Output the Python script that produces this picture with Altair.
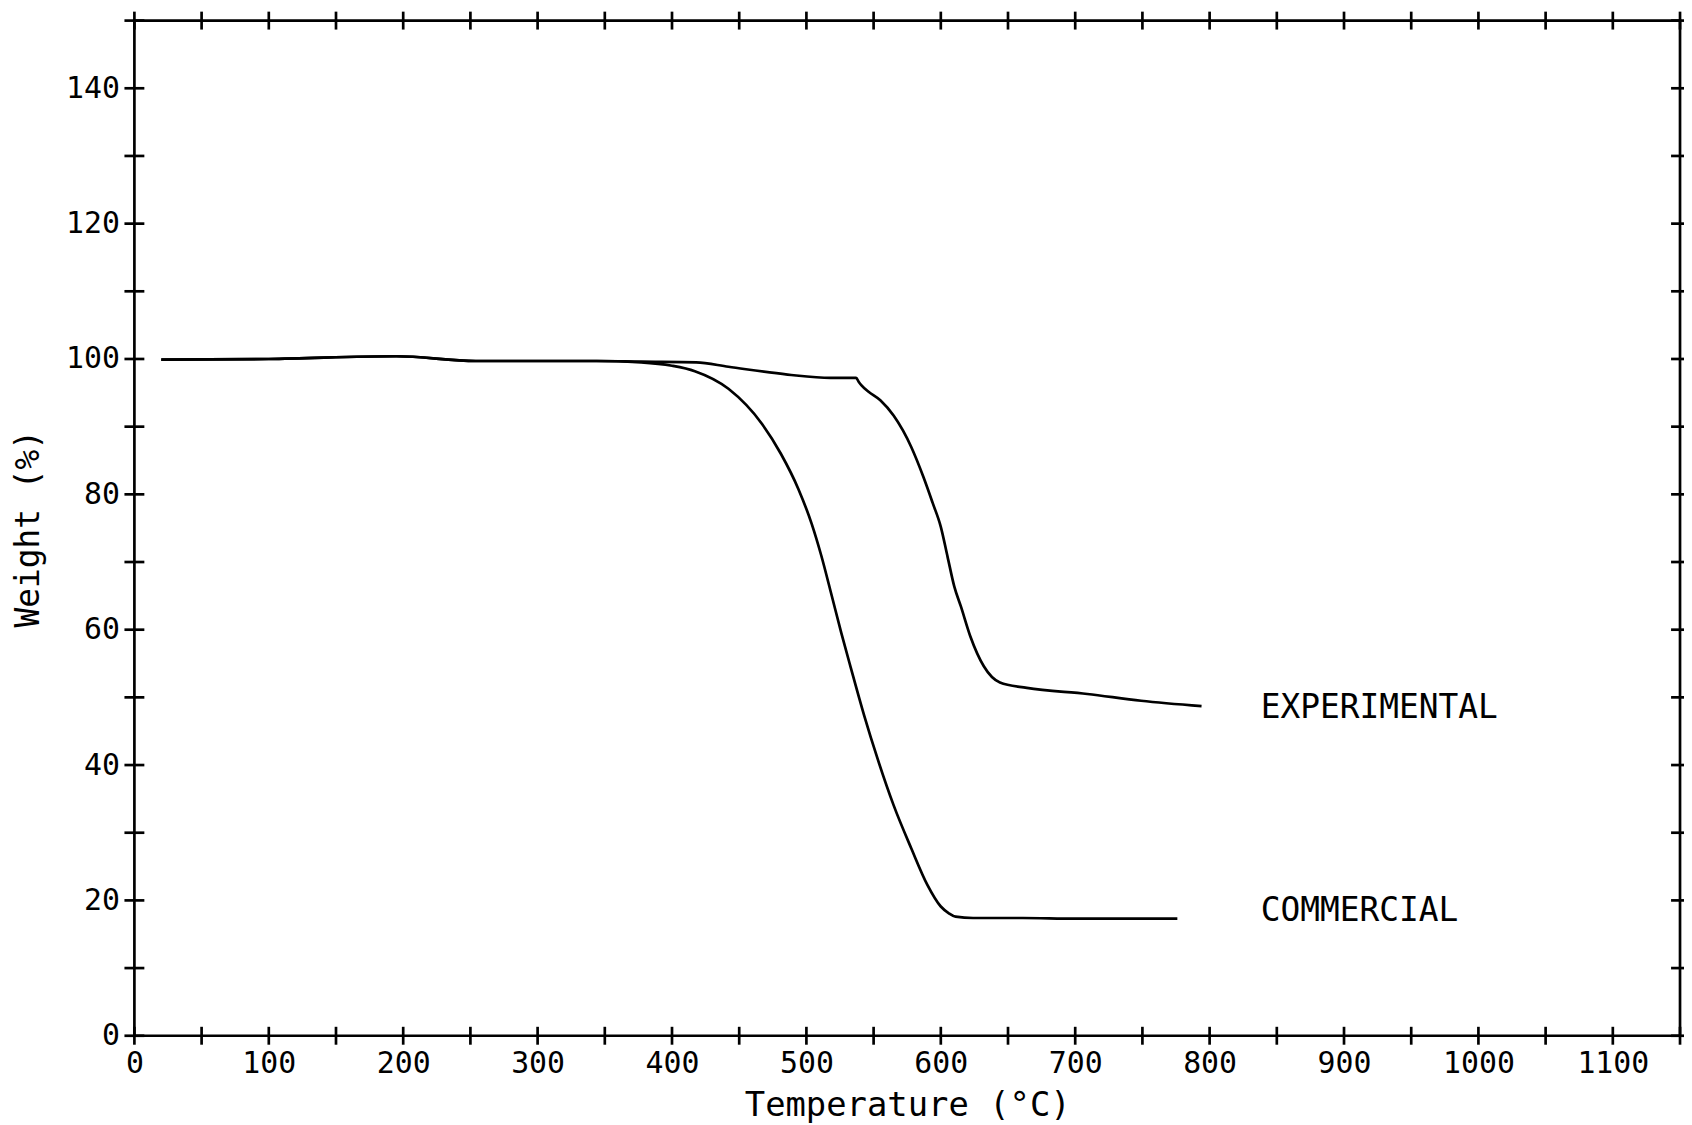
import altair as alt
import pandas as pd

# ---- data ----
commercial_T = [20, 100, 195, 254, 344, 377, 400, 417, 442, 467, 481, 494, 504, 511,
                519, 526, 533, 543, 553, 565, 578, 590, 600, 606, 611, 624, 661, 700,
                740, 776]
commercial_W = [99.9, 100.0, 100.4, 99.7, 99.7, 99.5, 99.0, 98.2, 95.6, 90.4, 86.0,
                80.8, 75.6, 71.0, 64.9, 59.5, 54.4, 47.3, 40.9, 34.0, 27.7, 22.3, 19.1,
                18.1, 17.6, 17.4, 17.4, 17.3, 17.3, 17.3]

experimental_T = [20, 100, 195, 254, 344, 377, 418, 442, 486, 518, 537, 539, 541, 546,
                  555, 565, 578, 587, 594, 600, 605, 610, 615, 622, 632, 644, 664, 709,
                  749, 794]
experimental_W = [99.9, 100.0, 100.4, 99.7, 99.7, 99.6, 99.5, 98.85, 97.7, 97.2, 97.2,
                  96.6, 96.1, 95.2, 93.9, 91.6, 87.0, 82.6, 78.7, 75.2, 70.8, 66.4,
                  63.4, 59.0, 54.6, 52.2, 51.4, 50.5, 49.5, 48.7]

label_names = ["EXPERIMENTAL", "COMMERCIAL"]
label_T = [838, 838]
label_W = [48.4, 18.4]

x_ticks = list(range(0, 1151, 50))
y_ticks = list(range(0, 151, 10))
x_tick_labels = list(range(0, 1101, 100))
y_tick_labels = list(range(0, 141, 20))

# ---- build tables ----
rows = []
for t, w in zip(commercial_T, commercial_W):
    rows.append({"T": t, "W": w, "series": "COMMERCIAL"})
for t, w in zip(experimental_T, experimental_W):
    rows.append({"T": t, "W": w, "series": "EXPERIMENTAL"})
curves = pd.DataFrame(rows)
labels = pd.DataFrame({"name": label_names, "T": label_T, "W": label_W})
xt = pd.DataFrame({"T": x_ticks})
yt = pd.DataFrame({"W": y_ticks})

PW, PH = 1553, 1020
FONT = "DejaVu Sans Mono"
LW = 2.7

xscale = alt.Scale(domain=[0, 1150], nice=False, zero=False)
yscale = alt.Scale(domain=[0, 150], nice=False, zero=False)

xaxis = alt.Axis(values=x_tick_labels, format="d", title="Temperature (°C)", grid=False,
                 domain=False, ticks=True, tickSize=9, tickColor="transparent",
                 labelFont=FONT, labelFontSize=30, labelColor="black",
                 labelPadding=4, labelFlush=False, labelOverlap=False,
                 titleFont=FONT, titleFontSize=34, titleFontWeight="normal",
                 titleColor="black", titlePadding=10)
yaxis = alt.Axis(values=y_tick_labels, format="d", title="Weight (%)", grid=False,
                 domain=False, ticks=True, tickSize=10, tickColor="transparent",
                 labelFont=FONT, labelFontSize=30, labelColor="black",
                 labelPadding=5, labelFlush=False, labelOverlap=False,
                 titleFont=FONT, titleFontSize=33, titleFontWeight="normal",
                 titleColor="black", titlePadding=20)

lines = alt.Chart(curves).mark_line(color="black", strokeWidth=LW,
                                    interpolate="monotone").encode(
    x=alt.X("T:Q", scale=xscale, axis=xaxis),
    y=alt.Y("W:Q", scale=yscale, axis=yaxis),
    detail="series:N",
)

texts = alt.Chart(labels).mark_text(
    align="left", baseline="middle", font=FONT, fontSize=33, color="black"
).encode(x=alt.X("T:Q", scale=xscale), y=alt.Y("W:Q", scale=yscale), text="name:N")

bottom_ticks = alt.Chart(xt).mark_rule(color="black", strokeWidth=LW).encode(
    x=alt.X("T:Q", scale=xscale), y=alt.value(PH - 9), y2=alt.value(PH + 9))
top_ticks = alt.Chart(xt).mark_rule(color="black", strokeWidth=LW).encode(
    x=alt.X("T:Q", scale=xscale), y=alt.value(-9), y2=alt.value(9))
left_ticks = alt.Chart(yt).mark_rule(color="black", strokeWidth=LW).encode(
    y=alt.Y("W:Q", scale=yscale), x=alt.value(-10), x2=alt.value(10))
right_ticks = alt.Chart(yt).mark_rule(color="black", strokeWidth=LW).encode(
    y=alt.Y("W:Q", scale=yscale), x=alt.value(PW - 9), x2=alt.value(PW + 9))

chart = alt.layer(lines, texts, bottom_ticks, top_ticks, left_ticks, right_ticks).properties(
    width=PW, height=PH,
    autosize=alt.AutoSizeParams(type="none"),
    padding={"left": 127, "top": 10, "right": 4, "bottom": 85},
    background="white",
).configure_view(stroke="black", strokeWidth=LW)

chart.save("out.html", embed_options={"renderer": "svg", "actions": False})
